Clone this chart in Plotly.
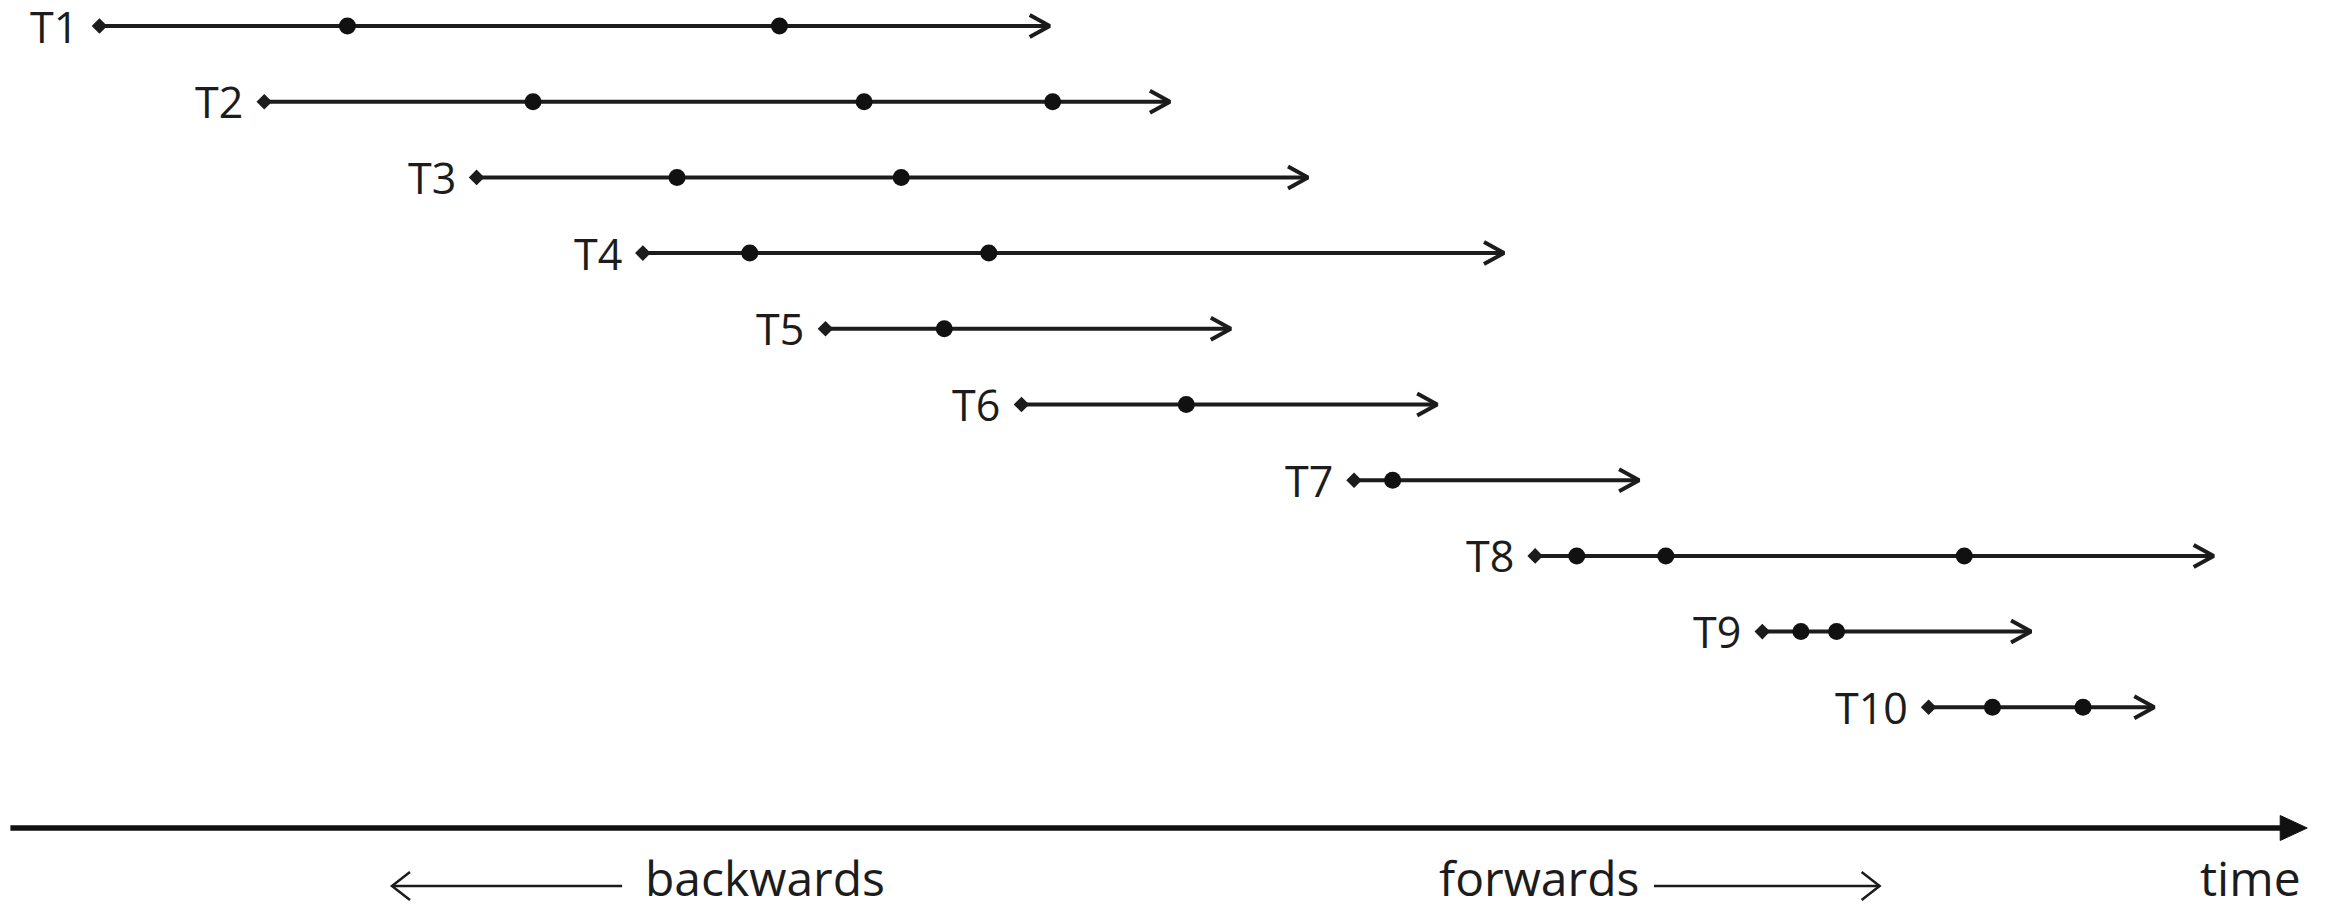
import plotly.graph_objects as go

# ---- data (time in arbitrary units) ----
tracks = ["T1", "T2", "T3", "T4", "T5", "T6", "T7", "T8", "T9", "T10"]
starts = [6.7, 17.8, 32.1, 43.3, 55.6, 68.8, 91.2, 103.4, 118.7, 129.9]
ends = [70.7, 78.8, 88.1, 101.3, 82.9, 96.8, 110.4, 149.1, 136.8, 145.1]
events = [
    [23.4, 52.5],
    [35.9, 58.2, 70.9],
    [45.6, 60.7],
    [50.5, 66.6],
    [63.6],
    [79.9],
    [93.8],
    [106.2, 112.2, 132.3],
    [121.3, 123.7],
    [134.2, 140.3],
]
time_axis = [0.7, 155.4]          # start, tip
backwards_arrow = [41.9, 26.4]    # tail, tip
forwards_arrow = [111.4, 126.6]   # tail, tip
axis_labels = ["backwards", "forwards", "time"]
axis_label_x = [43.3, 96.8, 155.1]

# ---- geometry / style ----
W, H = 2328, 905
OFF = 8                            # page offset of the plot div (body margin)
PX_X = W / 156.8                   # px per x unit
XR = [OFF / PX_X, OFF / PX_X + W / PX_X]
Y_TOP, ROW_PX = 26.0, 75.7
YR_TOP = 1 + (OFF - Y_TOP) / ROW_PX
YR = [YR_TOP + H / ROW_PX, YR_TOP]
ROW_AXIS = 1 + (828 - Y_TOP) / ROW_PX
ROW_SMALL = 1 + (886 - Y_TOP) / ROW_PX
ROW_TEXT = 1 + (877 - Y_TOP) / ROW_PX
INK = "#1c1c1c"

def px_x(p):
    return p / PX_X

def px_y(p):
    return p / ROW_PX

fig = go.Figure()

rows = list(range(1, len(tracks) + 1))

# track lines
lx, ly = [], []
cx, cy = [], []
hdx, hdy = px_x(20), px_y(11)
for r, s, e in zip(rows, starts, ends):
    lx += [s, e - px_x(1), None]
    ly += [r, r, None]
    cx += [e - hdx, e, e - hdx, None]
    cy += [r - hdy, r, r + hdy, None]
fig.add_trace(go.Scatter(x=lx, y=ly, mode="lines",
                         line=dict(color=INK, width=4), hoverinfo="skip"))
fig.add_trace(go.Scatter(x=cx, y=cy, mode="lines",
                         line=dict(color=INK, width=4), hoverinfo="skip"))

# start diamonds
fig.add_trace(go.Scatter(x=starts, y=rows, mode="markers",
                         marker=dict(symbol="diamond", size=12, color=INK,
                                     line=dict(width=0)), hoverinfo="skip"))
# event dots
ex, ey = [], []
for r, evs in zip(rows, events):
    for v in evs:
        ex.append(v)
        ey.append(r)
fig.add_trace(go.Scatter(x=ex, y=ey, mode="markers",
                         marker=dict(symbol="circle", size=17, color="#111111",
                                     line=dict(width=0)), hoverinfo="skip"))

# time axis
tri_l, tri_h = px_x(27), px_y(12.5)
fig.add_trace(go.Scatter(x=[time_axis[0], time_axis[1] - tri_l * 0.6],
                         y=[ROW_AXIS, ROW_AXIS], mode="lines",
                         line=dict(color="#111111", width=5.5), hoverinfo="skip"))
fig.add_trace(go.Scatter(x=[time_axis[1] - tri_l, time_axis[1], time_axis[1] - tri_l, time_axis[1] - tri_l],
                         y=[ROW_AXIS - tri_h, ROW_AXIS, ROW_AXIS + tri_h, ROW_AXIS - tri_h],
                         mode="lines", fill="toself", fillcolor="#111111",
                         line=dict(color="#111111", width=1), hoverinfo="skip"))

# small direction arrows
sdx, sdy = px_x(18), px_y(14)
for tail, tip in [backwards_arrow, forwards_arrow]:
    sgn = 1 if tip > tail else -1
    fig.add_trace(go.Scatter(x=[tail, tip], y=[ROW_SMALL, ROW_SMALL], mode="lines",
                             line=dict(color=INK, width=2.5), hoverinfo="skip"))
    fig.add_trace(go.Scatter(x=[tip - sgn * sdx, tip, tip - sgn * sdx],
                             y=[ROW_SMALL - sdy, ROW_SMALL, ROW_SMALL + sdy], mode="lines",
                             line=dict(color=INK, width=2.5), hoverinfo="skip"))

# track labels
for r, s, name in zip(rows, starts, tracks):
    fig.add_annotation(x=s, y=r, text=name, showarrow=False, xanchor="right",
                       yanchor="middle", xshift=-19, yshift=0,
                       font=dict(family="Open Sans", size=43, color=INK))

# axis labels
anchors = ["left", "left", "right"]
for t, x, a in zip(axis_labels, axis_label_x, anchors):
    fig.add_annotation(x=x, y=ROW_TEXT, text=t, showarrow=False, xanchor=a,
                       yanchor="middle",
                       font=dict(family="Open Sans", size=48, color=INK))

fig.update_layout(
    width=W, height=H, margin=dict(l=0, r=0, t=0, b=0),
    paper_bgcolor="white", plot_bgcolor="white", showlegend=False,
    xaxis=dict(range=XR, visible=False, fixedrange=True),
    yaxis=dict(range=YR, visible=False, fixedrange=True),
)

fig.write_html("out.html")
